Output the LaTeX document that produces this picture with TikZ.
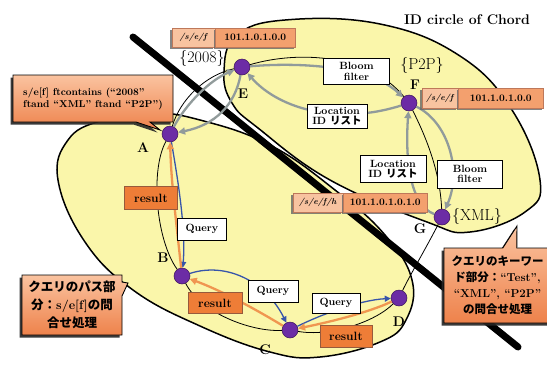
\documentclass[tikz,border=0pt]{standalone}
\usepackage{fontspec}
\newfontfamily\jp{Noto Sans CJK JP}
\usetikzlibrary{arrows.meta,shapes.callouts,shadows}
\definecolor{ellfill}{RGB}{250,246,170}
\definecolor{nodepurple}{RGB}{108,44,165}
\definecolor{nodeedge}{RGB}{60,20,90}
\definecolor{arrgray}{RGB}{145,155,155}
\definecolor{qblue}{RGB}{55,85,170}
\definecolor{resorange}{RGB}{240,150,80}
\definecolor{boxorange}{RGB}{238,125,55}
\definecolor{boxedge}{RGB}{150,90,60}
\definecolor{calltop}{RGB}{250,195,160}
\definecolor{callbot}{RGB}{238,130,75}
\definecolor{cellA}{RGB}{248,195,160}
\definecolor{cellB}{RGB}{243,160,110}
\definecolor{celledge}{RGB}{190,120,90}
\begin{document}
\begin{tikzpicture}[x=1pt,y=-1pt,
  ring/.style={draw=black,line width=0.8pt},
  garr/.style={draw=arrgray,line width=2.3pt,-{Triangle[length=7pt,width=7pt]}},
  qarr/.style={draw=qblue,line width=1.3pt,-{Triangle[length=6pt,width=6pt]}},
  rarr/.style={draw=resorange,line width=2.3pt,-{Triangle[length=7pt,width=7pt]}},
  peer/.style={circle,fill=nodepurple,draw=nodeedge,line width=0.5pt,minimum size=16pt,inner sep=0pt},
  plabel/.style={font=\bfseries\fontsize{14}{14}\selectfont,inner sep=0pt},
  kw/.style={font=\fontsize{16}{16}\selectfont,inner sep=0pt},
  wbox/.style={draw=black,fill=white,line width=0.8pt,align=center,inner sep=0pt,font=\bfseries\fontsize{10.5}{10.5}\selectfont},
  rbox/.style={draw=boxedge,fill=boxorange,line width=0.6pt,inner sep=0pt,font=\bfseries\fontsize{12}{12}\selectfont},
  cell/.style={draw=celledge,line width=0.5pt,inner sep=0pt,minimum height=19pt,font=\bfseries\fontsize{10}{10}\selectfont,drop shadow={shadow xshift=-1.5pt,shadow yshift=-1.5pt,fill=black!60,opacity=0.8}},
  celli/.style={cell,font=\bfseries\itshape\fontsize{8.5}{8.5}\selectfont},
  callbox/.style={rectangle callout,draw=black,line width=0.9pt,top color=calltop,bottom color=callbot,inner sep=0pt,callout pointer width=14pt,drop shadow={shadow xshift=-2.5pt,shadow yshift=-2.5pt,fill=black!85,opacity=0.9}},
  blob/.style={line width=1.5pt,draw=black}
]
\useasboundingbox (0,0) rectangle (547,365);
\clip (0,0) rectangle (547,365);
\fill[white] (0,0) rectangle (547,365);
% regions
\fill[ellfill] plot[smooth cycle,tension=0.7] coordinates {(224,72) (236,36) (285,20) (380,24) (460,56) (512,110) (540,180) (525,212) (470,232) (427,222) (330,180) (258,128) (232,103)};
\fill[ellfill] plot[smooth cycle,tension=0.7] coordinates {(58,180) (68,140) (100,121) (150,113) (200,120) (270,145) (335,190) (385,235) (412,280) (406,320) (380,342) (320,357) (270,352) (200,326) (133,290) (85,242)};
\draw[blob] plot[smooth cycle,tension=0.7] coordinates {(224,72) (236,36) (285,20) (380,24) (460,56) (512,110) (540,180) (525,212) (470,232) (427,222) (330,180) (258,128) (232,103)};
\draw[blob] plot[smooth cycle,tension=0.7] coordinates {(58,180) (68,140) (100,121) (150,113) (200,120) (270,145) (335,190) (385,235) (412,280) (406,320) (380,342) (320,357) (270,352) (200,326) (133,290) (85,242)};
% thick line
\draw[line width=7pt,line cap=round] (133,37) -- (518,347);
% title
\node[font=\bfseries\fontsize{14}{14}\selectfont] (title) at (467,20) {ID circle of Chord};
% peers
\node[peer] (nE) at (242,67) {};
\node[peer] (nA) at (170,134) {};
\node[peer] (nF) at (409,103) {};
\node[peer] (nG) at (442,217) {};
\node[peer] (nB) at (182,276) {};
\node[peer] (nC) at (290,330) {};
\node[peer] (nD) at (399,298) {};
% ring
\draw[ring] (nA) .. controls (180,100) and (205,75) .. (nE);
\draw[ring] (nE) .. controls (300,50) and (370,55) .. (nF);
\draw[ring] (nF) .. controls (425,135) and (440,170) .. (nG);
\draw[ring] (nG) .. controls (425,250) and (410,275) .. (nD);
\draw[ring] (nD) .. controls (375,322) and (330,337) .. (nC);
\draw[ring] (nC) .. controls (250,332) and (200,312) .. (nB);
\draw[ring] (nB) .. controls (156,240) and (150,170) .. (nA);
% gray arrows
\draw[garr] (nA) .. controls (186,104) and (210,80) .. (nE);
\draw[garr] (nE) .. controls (235,105) and (215,125) .. (nA);
\draw[garr] (nE) .. controls (300,62) and (370,66) .. (nF);
\draw[garr] (nF) .. controls (340,125) and (280,110) .. (nE);
\draw[garr] (nF) .. controls (448,122) and (462,170) .. (nG);
\draw[garr] (nG) .. controls (410,205) and (405,160) .. (nF);
% query arrows
\draw[qarr] (nA) .. controls (178,180) and (186,230) .. (nB);
\draw[qarr] (nB) .. controls (225,262) and (265,280) .. (nC);
\draw[qarr] (nC) .. controls (320,315) and (360,300) .. (nD);
% result arrows
\draw[rarr] (nB) .. controls (176,220) and (171,180) .. (nA);
\draw[rarr] (nC) .. controls (260,312) and (225,292) .. (nB);
\draw[rarr] (nD) .. controls (370,312) and (330,322) .. (nC);
% boxes
\node[wbox,minimum width=66pt,minimum height=26pt] (bf1) at (356.5,71.5) {Bloom\\filter};
\node[wbox,minimum width=60pt,minimum height=24pt] (li1) at (337,116) {Location\\ID {\jp リスト}};
\node[wbox,minimum width=66pt,minimum height=27pt] (li2) at (393,169) {Location\\ID {\jp リスト}};
\node[wbox,minimum width=65pt,minimum height=28pt] (bf2) at (470,174) {Bloom\\filter};
\node[wbox,minimum width=49pt,minimum height=22pt] (q1) at (202,229) {Query};
\node[wbox,minimum width=50pt,minimum height=22pt] (q2) at (273,291) {Query};
\node[wbox,minimum width=48pt,minimum height=20pt] (q3) at (336,303) {Query};
\node[rbox,minimum width=53pt,minimum height=23pt] (r1) at (151,198) {result};
\node[rbox,minimum width=54pt,minimum height=21pt] (r2) at (215,303) {result};
\node[rbox,minimum width=52pt,minimum height=22pt] (r3) at (346,336) {result};
% tables
\node[celli,fill=cellA,anchor=east,minimum width=43pt] (t1a) at (215,37.5) {/s/e/f};
\node[cell,fill=cellB,anchor=west,minimum width=80pt] (t1b) at (215,37.5) {101.1.0.1.0.0};
\node[celli,fill=cellA,anchor=east,minimum width=36pt,minimum height=20pt] (t2a) at (458,98) {/s/e/f};
\node[cell,fill=cellB,anchor=west,minimum width=85pt,minimum height=20pt] (t2b) at (458,98) {101.1.0.1.0.0};
\node[celli,fill=cellA,anchor=east,minimum width=50pt,minimum height=19pt] (t3a) at (343,202.5) {/s/e/f/h};
\node[cell,fill=cellB,anchor=west,minimum width=84pt,minimum height=19pt] (t3b) at (343,202.5) {101.1.0.1.0.1.0};
% labels
\node[plabel] (lA) at (143,148) {A};
\node[plabel] (lE) at (243,94) {E};
\node[plabel] (lF) at (415,85) {F};
\node[plabel] (lG) at (420,229) {G};
\node[plabel] (lB) at (163,258) {B};
\node[plabel] (lC) at (265,350) {C};
\node[plabel] (lD) at (399,322) {D};
\node[kw] (k1) at (202,58) {\{2008\}};
\node[kw] (k2) at (422,65) {\{P2P\}};
\node[kw] (k3) at (477,216) {\{XML\}};
% callouts
\node[callbox,minimum width=160pt,minimum height=47pt,align=left,
  callout absolute pointer={(160,130)},
  font=\bfseries\fontsize{10}{12}\selectfont] (cTL) at (93,98.5)
  {s/e[f] ftcontains (“2008”\\ftand “XML” ftand “P2P”)};
\node[callbox,minimum width=100pt,minimum height=60pt,align=center,
  callout absolute pointer={(128,283)},
  font=\jp\bfseries\fontsize{12.5}{18}\selectfont] (cBL) at (72,305)
  {クエリのパス部\\分：{\rmfamily s/e[f]}の問\\合せ処理};
\node[callbox,minimum width=107pt,minimum height=75pt,align=center,
  callout absolute pointer={(517,226)},
  font=\jp\bfseries\fontsize{11.5}{16}\selectfont] (cBR) at (497.5,285.5)
  {クエリのキーワー\\ド部分：{\rmfamily “Test”,}\\{\rmfamily “XML”, “P2P”}\\の問合せ処理};
\end{tikzpicture}
\end{document}
